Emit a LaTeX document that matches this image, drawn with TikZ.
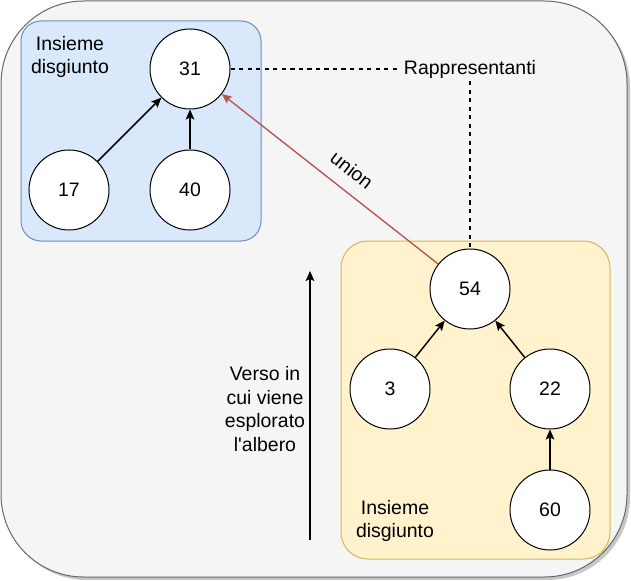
\documentclass[tikz,border=0pt]{standalone}
\usepackage{fontspec}
\setmainfont{Liberation Sans}
\newfontfamily\plainsans{Liberation Sans}
\usetikzlibrary{arrows.meta,positioning}
\definecolor{bggray}{HTML}{F5F5F5}
\definecolor{bgline}{HTML}{666666}
\definecolor{setblue}{HTML}{DAE8FC}
\definecolor{setblueline}{HTML}{6C8EBF}
\definecolor{setyellow}{HTML}{FFF2CC}
\definecolor{setyellowline}{HTML}{D6B656}
\definecolor{unionred}{HTML}{B85450}
\begin{document}
\begin{tikzpicture}[x=0.75pt,y=-0.75pt,
  nd/.style={circle,draw,fill=white,minimum size=60pt,inner sep=0pt,line width=0.75pt,font=\fontsize{14.6}{17.6}\selectfont},
  lbl/.style={align=center,inner sep=2pt,font=\fontsize{14.6}{17.8}\selectfont},
  arr/.style={-{Stealth[length=7.5pt,width=6.5pt,inset=1.5pt]},line width=1.1pt},
  dsh/.style={dash pattern=on 3.2pt off 3.2pt,line width=1.1pt},
  node distance=30pt and 30pt]
\useasboundingbox (0,0) rectangle (631,581);
% frames
\fill[black!22,rounded corners=62pt] (4,4) rectangle (630,580);
\draw[draw=bgline,fill=bggray,line width=0.75pt,rounded corners=62pt] (1,1) rectangle (627,577);
\draw[draw=setblueline,fill=setblue,line width=0.75pt,rounded corners=15pt] (21,21) rectangle (261,241);
\draw[draw=setyellowline,fill=setyellow,line width=0.75pt,rounded corners=20pt] (341,241) rectangle (610,559);
% trees
\node[nd] (n31) at (190,69) {31};
\node[nd,below=of n31] (n40) {40};
\node[nd,left=of n40] (n17) {17};
\node[nd] (n54) at (470,289) {54};
\node[nd] (n3) at (390,389) {3};
\node[nd] (n22) at (550,389) {22};
\node[nd,below=of n22] (n60) {60};
% labels
\node[lbl] (rep) at (470,69) {Rappresentanti};
\node[lbl] (setA) at (70,57) {Insieme\\disgiunto};
\node[lbl] (setB) at (395,521) {Insieme\\disgiunto};
\node[lbl] (verso) at (265,409) {Verso in\\cui viene\\esplorato\\l{\plainsans '}albero};
\node[lbl,rotate=-38,inner sep=0pt] (un) at (352,170) {union};
\coordinate (vlow) at (310,540);
\coordinate (vhigh) at (310,271);
% edges
\draw[arr] (n17) -- (n31);
\draw[arr] (n40) -- (n31);
\draw[arr] (n3) -- (n54);
\draw[arr] (n22) -- (n54);
\draw[arr] (n60) -- (n22);
\draw[arr,draw=unionred,fill=unionred,line width=1pt] (n54) -- (n31);
\draw[dsh] (n31) -- (rep);
\draw[dsh] (rep) -- (n54);
\draw[arr] (vlow) -- (vhigh);
\end{tikzpicture}
\end{document}
